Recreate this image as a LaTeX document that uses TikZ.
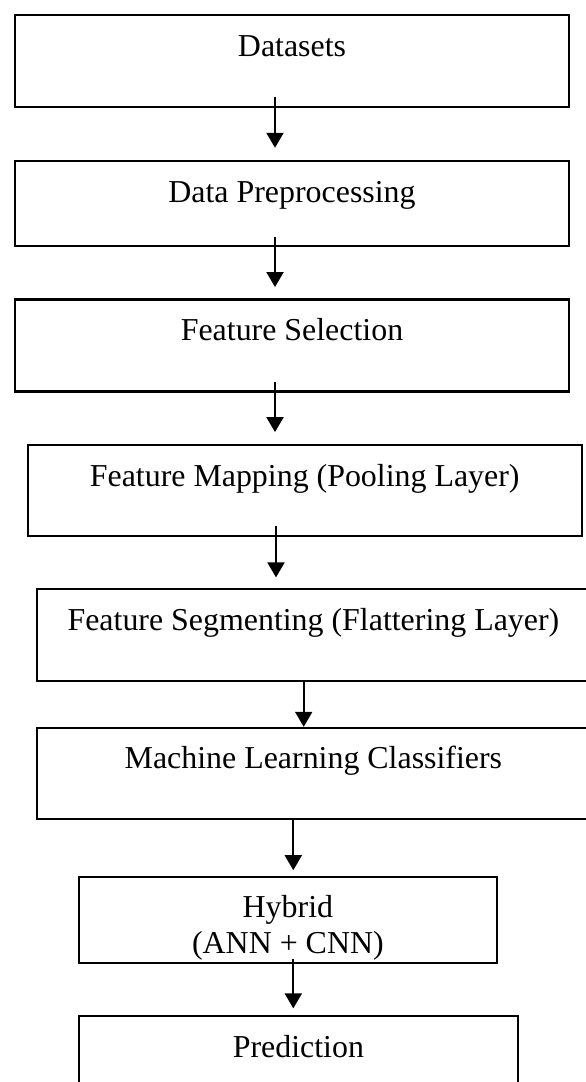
\documentclass[tikz,border=0pt]{standalone}
\usepackage{fontspec}
\setmainfont{Liberation Serif}
\usetikzlibrary{arrows.meta,calc}
\begin{document}
\begin{tikzpicture}[x=1pt,y=-1pt,
  box/.style={draw=black, line width=1.9pt, inner sep=0pt},
  heavybox/.style={box, line width=2.5pt},
  lbl/.style={inner sep=0pt, anchor=base, font=\fontsize{31.9}{36.6}\selectfont},
  arr/.style={line width=2pt, -{Triangle[width=17pt,length=15pt]}}]
\clip (0,0) rectangle (586,1082);
\fill[white] (0,0) rectangle (586,1082);
% boxes
\node[heavybox, minimum width=554pt, minimum height=92pt]   (b1) at (292,61) {};
\node[heavybox, minimum width=554pt, minimum height=85.3pt] (b2) at (292,203.4) {};
\node[heavybox, minimum width=554pt, minimum height=92.4pt] (b3) at (292,345.5) {};
\node[box, minimum width=554pt, minimum height=90.7pt]   (b4) at (304.7,490.4) {};
\node[box, minimum width=553.3pt, minimum height=91.7pt] (b5) at (313.4,635.2) {};
\node[box, minimum width=553.3pt, minimum height=91.3pt] (b6) at (313.4,773.4) {};
\node[box, minimum width=418.3pt, minimum height=86.3pt] (b7) at (287.9,919.9) {};
\node[box, minimum width=439.3pt, minimum height=93pt]   (b8) at (298.4,1062.5) {};
% labels
\node[lbl] (t1) at (292,56) {Datasets};
\node[lbl] (t2) at (292,202) {Data Preprocessing};
\node[lbl] (t3) at (292,340) {Feature Selection};
\node[lbl] (t4) at (304.7,486) {Feature Mapping (Pooling Layer)};
\node[lbl] (t5) at (313.4,630.5) {Feature Segmenting (Flattering Layer)};
\node[lbl] (t6) at (313.4,768.5) {Machine Learning Classifiers};
\node[lbl] (t7a) at (287.9,917) {Hybrid};
\node[lbl] (t7b) at (287.9,953.3) {(ANN + CNN)};
\node[lbl] (t8) at (298.4,1057) {Prediction};
% arrows
\draw[arr] ($(b1.south)+(-17,-11)$) -- ($(b2.north)+(-17,-11.7)$);
\draw[arr] ($(b2.south)+(-17,-10)$) -- ($(b3.north)+(-17,-11)$);
\draw[arr] ($(b3.south)+(-17,-10.7)$) -- ($(b4.north)+(-29.7,-12)$);
\draw[arr] ($(b4.south)+(-28.7,-11)$) -- ($(b5.north)+(-37.4,-11)$);
\draw[arr] ($(b5.south)+(-9.7,0)$) -- ($(b6.north)+(-9.7,0)$);
\draw[arr] ($(b6.south)+(-20.1,0)$) -- ($(b7.north)+(5.4,-5.6)$);
\draw[arr] ($(b7.south)+(5.4,-5)$) -- ($(b8.north)+(-5.1,-6.7)$);
\end{tikzpicture}
\end{document}
